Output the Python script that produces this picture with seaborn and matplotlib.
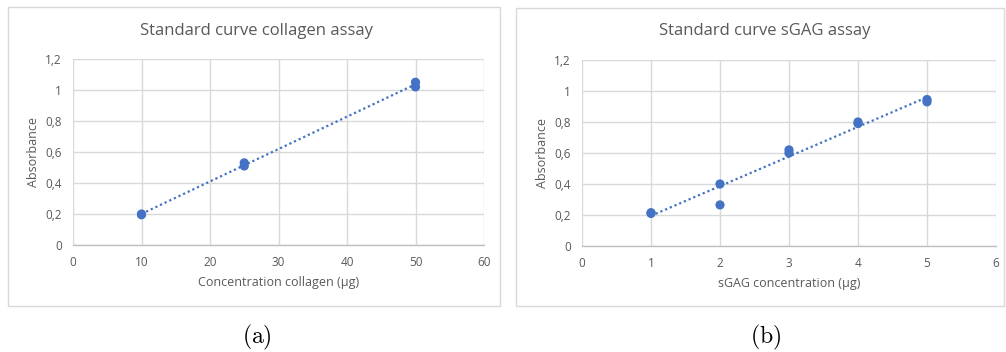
import numpy as np
import pandas as pd
import matplotlib
matplotlib.use("Agg")
import matplotlib.pyplot as plt
import seaborn as sns
from matplotlib.patches import Rectangle

sns.set_theme(style="white")
plt.rcParams['font.family'] = ['Open Sans', 'DejaVu Sans']
plt.rcParams['mathtext.fontset'] = 'cm'

# Collagen standard curve
collagen_conc = [10, 10, 25, 25, 50, 50]
collagen_abs = [0.20, 0.195, 0.53, 0.51, 1.05, 1.02]

# sGAG standard curve
sgag_conc = [1, 1, 2, 2, 3, 3, 4, 4, 5, 5]
sgag_abs = [0.215, 0.21, 0.40, 0.265, 0.62, 0.60, 0.80, 0.79, 0.945, 0.93]

titles = ["Standard curve collagen assay", "Standard curve sGAG assay"]
xlabels = ["Concentration collagen (µg)", "sGAG concentration (µg)"]
captions = ["(a)", "(b)"]
yticks = [0, 0.2, 0.4, 0.6, 0.8, 1.0, 1.2]
ytick_labels = ["0", "0,2", "0,4", "0,6", "0,8", "1", "1,2"]
xticks_a = [0, 10, 20, 30, 40, 50, 60]
xticks_b = [0, 1, 2, 3, 4, 5, 6]

W, H = 1006, 352
fig = plt.figure(figsize=(W / 100, H / 100), dpi=100)

def px_axes(x0, x1, ytop, ybot):
    return fig.add_axes([x0 / W, (H - ybot) / H, (x1 - x0) / W, (ybot - ytop) / H])

blue = "#4472C4"
gray_txt = "#595959"
grid_c = "#d9d9d9"

# panel frames
for (bx0, bx1, by0, by1) in [(8, 500, 7, 306), (516, 1004, 8, 306)]:
    fig.patches.append(Rectangle((bx0 / W, (H - by1) / H), (bx1 - bx0) / W, (by1 - by0) / H,
                                 transform=fig.transFigure, fill=False,
                                 edgecolor="#d9d9d9", lw=1.0))

specs = [
    (px_axes(73, 484, 59, 245), collagen_conc, collagen_abs, xticks_a, (0, 60), 257),
    (px_axes(582, 996, 60, 246), sgag_conc, sgag_abs, xticks_b, (0, 6), 765),
]

for i, (ax, xs, ys, xt, xlim, tcx) in enumerate(specs):
    df = pd.DataFrame({"x": xs, "y": ys})
    sns.regplot(data=df, x="x", y="y", ax=ax, ci=None, truncate=True,
                scatter_kws=dict(s=44, color=blue, edgecolor="none", alpha=1, zorder=3),
                line_kws=dict(color=blue, ls=(0, (1, 1.3)), lw=1.6, zorder=2))
    ax.set_xlim(*xlim)
    ax.set_ylim(0, 1.2)
    ax.set_xticks(xt)
    ax.set_xticklabels([str(v) for v in xt])
    ax.set_yticks(yticks)
    ax.set_yticklabels(ytick_labels)
    ax.grid(True, color=grid_c, lw=1.0)
    ax.set_axisbelow(True)
    for s in ["top", "right", "left"]:
        ax.spines[s].set_visible(False)
    ax.spines["bottom"].set_color("#bfbfbf")
    ax.spines["bottom"].set_linewidth(1.0)
    ax.tick_params(axis="both", length=0, labelsize=8.5, colors=gray_txt, pad=8)
    ax.set_xlabel(xlabels[i], fontsize=9, color=gray_txt, labelpad=5)
    ax.set_ylabel("Absorbance", fontsize=9, color=gray_txt, labelpad=4)
    fig.text(tcx / W, (H - 31) / H, titles[i], ha="center", va="center",
             fontsize=12, color=gray_txt)

fig.text(257 / W, (H - 337) / H, r"$\mathrm{(a)}$", ha="center", va="center", fontsize=17, color="black")
fig.text(766 / W, (H - 337) / H, r"$\mathrm{(b)}$", ha="center", va="center", fontsize=17, color="black")

fig.savefig("out.png", dpi=100, facecolor="white")
